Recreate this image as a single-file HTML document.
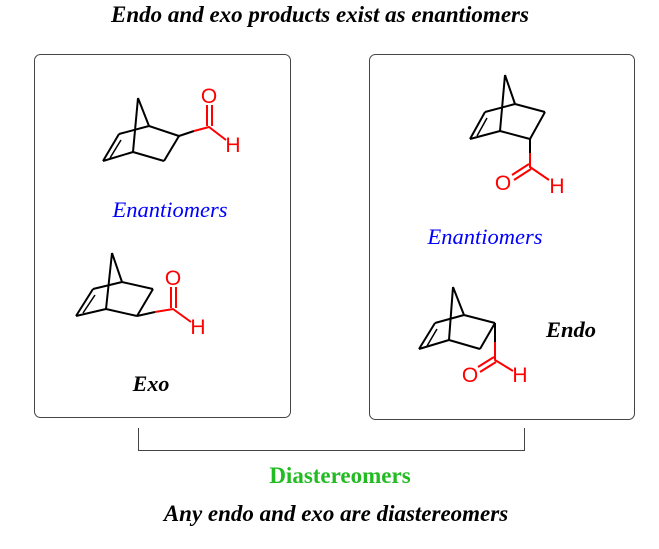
<!DOCTYPE html>
<html><head><style>
body{margin:0;width:659px;height:544px;background:#fff;overflow:hidden}
svg text{font-family:"Liberation Serif",serif}
</style></head><body>
<svg width="659" height="544" viewBox="0 0 659 544">
<text x="320" y="22" text-anchor="middle" font-size="23" font-weight="bold" font-style="italic">Endo and exo products exist as enantiomers</text>
<rect x="34.5" y="54.5" width="256" height="363" rx="6" fill="none" stroke="#444" stroke-width="1"/>
<rect x="369.5" y="54.5" width="265" height="365" rx="6" fill="none" stroke="#444" stroke-width="1"/>
<g stroke="#000" stroke-width="2" fill="none" stroke-linejoin="round">
<path d="M138 98L149 126M138 98L133 152M149 126L119 134M149 126L179 136M133 152L103 161M133 152L164 161M119 134L103 161M164 161L179 136"/>
<path d="M121 140L110 158" stroke-width="1.5"/>
<path d="M112 253L122 282M112 253L106 309M122 282L93 289M122 282L153 289M106 309L76 316M106 309L137 316M93 289L76 316M153 289L137 316"/>
<path d="M95 295L83 313" stroke-width="1.5"/>
<path d="M505 75L515 104M505 75L500 131M515 104L485 112M515 104L545 112M500 131L470 139M500 131L530 139M485 112L470 139M545 112L530 139"/>
<path d="M487 118L477 136" stroke-width="1.5"/>
<path d="M453 287L464 315M453 287L449 340M464 315L435 323M464 315L495 323M449 340L419 349M449 340L480 349M435 323L419 349M495 323L480 349"/>
<path d="M437 329L427 346" stroke-width="1.5"/>
</g>
<g stroke="#000" stroke-width="2" fill="none">
<path d="M179 136L194 131M137 316L155 312M530 139L530 153M495 323L495 342"/>
</g>
<g stroke="#f00" stroke-width="2" fill="none">
<path d="M194 131L209 127L226 140M207 126L207 105M212 126L212 105"/>
<path d="M155 312L173 309L191 322M171 308L171 287M176 308L176 287"/>
<path d="M530 153L530 167L549 180M529 164L512 175M531 169L514 180"/>
<path d="M495 342L495 360L513 371M494 357L478 367M496 362L480 372"/>
</g>
<g fill="#f00" font-size="21" text-anchor="middle">
<text x="209" y="103" style="font-family:'Liberation Sans',sans-serif">O</text>
<text x="233" y="152" style="font-family:'Liberation Sans',sans-serif">H</text>
<text x="173" y="285" style="font-family:'Liberation Sans',sans-serif">O</text>
<text x="198" y="334" style="font-family:'Liberation Sans',sans-serif">H</text>
<text x="503" y="190" style="font-family:'Liberation Sans',sans-serif">O</text>
<text x="557" y="193" style="font-family:'Liberation Sans',sans-serif">H</text>
<text x="470" y="382" style="font-family:'Liberation Sans',sans-serif">O</text>
<text x="520" y="382" style="font-family:'Liberation Sans',sans-serif">H</text>
</g>
<text x="170" y="217" text-anchor="middle" font-size="22.5" font-style="italic" fill="#00f">Enantiomers</text>
<text x="485" y="244" text-anchor="middle" font-size="22.5" font-style="italic" fill="#00f">Enantiomers</text>
<text x="151" y="391" text-anchor="middle" font-size="22" font-weight="bold" font-style="italic">Exo</text>
<text x="571" y="337" text-anchor="middle" font-size="22.5" font-weight="bold" font-style="italic">Endo</text>
<path d="M138.5 428V450.5H524.5V428" fill="none" stroke="#444" stroke-width="1"/>
<text x="340" y="483" text-anchor="middle" font-size="23" font-weight="bold" fill="#22bb22">Diastereomers</text>
<text x="336" y="521" text-anchor="middle" font-size="23" font-weight="bold" font-style="italic">Any endo and exo are diastereomers</text>
</svg>
</body></html>
